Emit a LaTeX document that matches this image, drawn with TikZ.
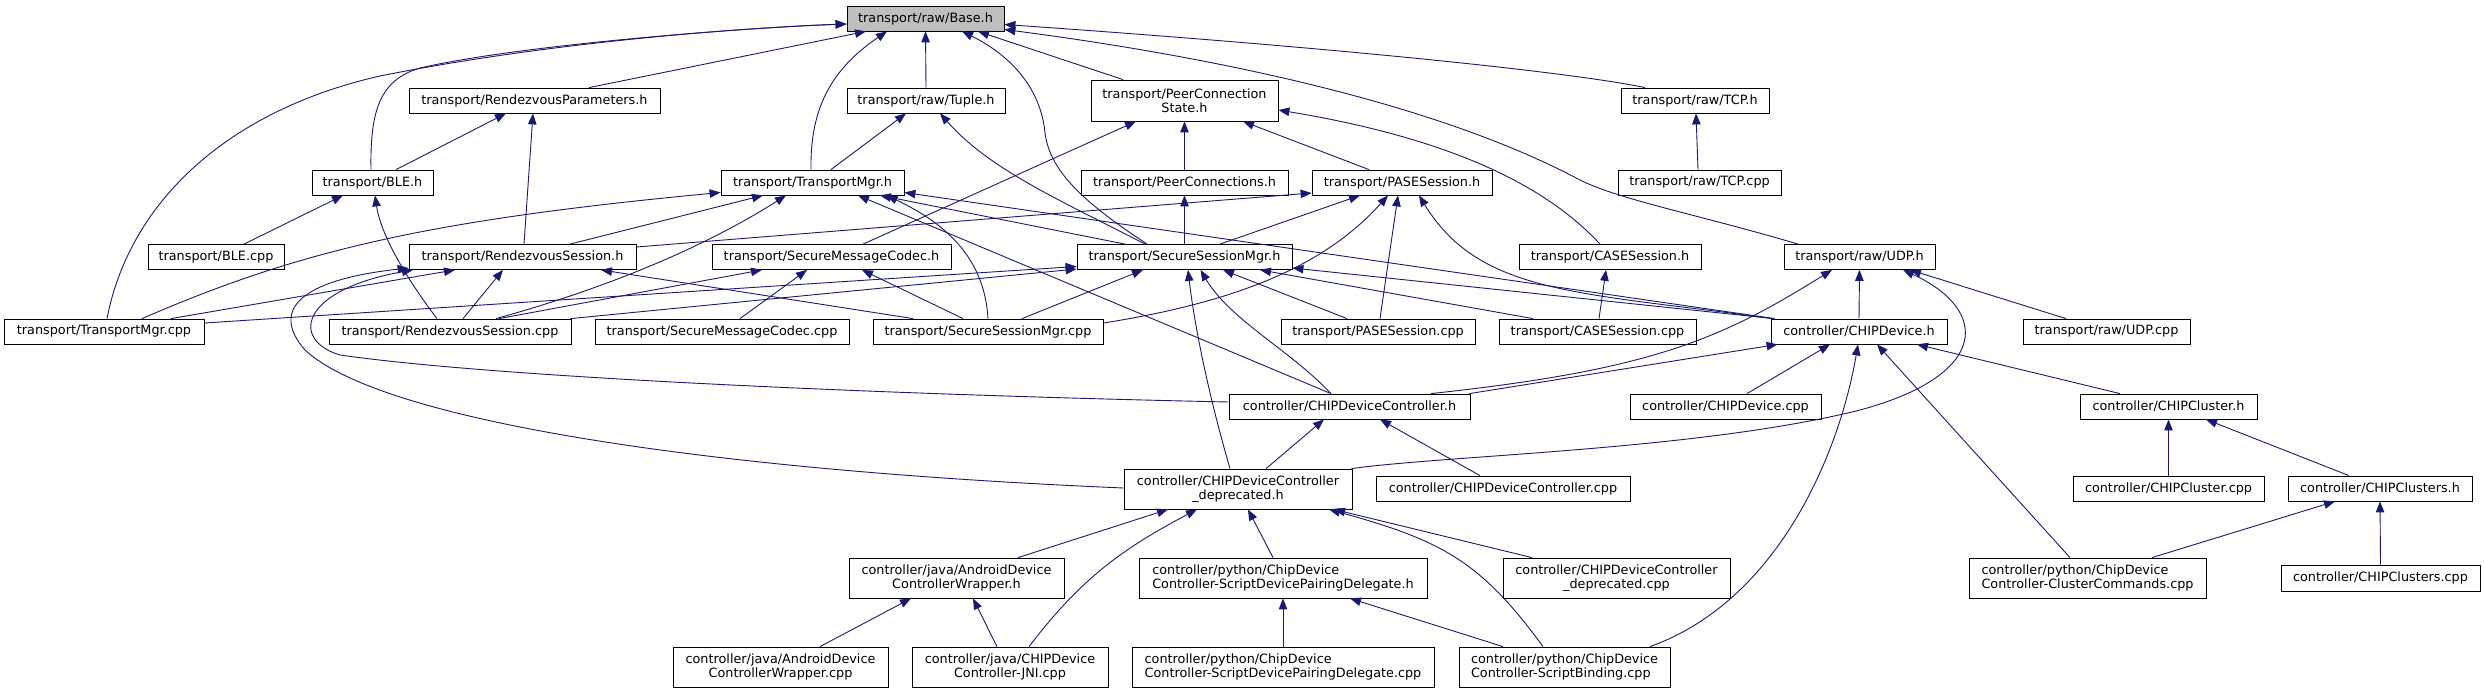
\documentclass[tikz,border=0pt]{standalone}
\usepackage{fontspec}
\setmainfont{DejaVu Sans}
\usetikzlibrary{arrows.meta}
\definecolor{edgeblue}{HTML}{191970}
\definecolor{basegray}{HTML}{BFBFBF}
\begin{document}
\begin{tikzpicture}[x=1pt,y=-1pt,
  box/.style={draw=black, line width=0.8pt, inner sep=0pt, align=center, font=\fontsize{12.8}{14}\selectfont, minimum height=25pt},
  tall/.style={minimum height=40pt},
  edge/.style={draw=edgeblue, line width=0.9pt, -{Triangle[length=11pt,width=8.5pt]}, fill=none},
]
\useasboundingbox (0,0) rectangle (2485,693);
% nodes
\node[box, fill=basegray, minimum width=157pt] (base) at (925.5,18.5) {transport/raw/Base.h};
\node[box, minimum width=251pt] (rp) at (534.5,100.5) {transport/RendezvousParameters.h};
\node[box, minimum width=158pt] (tuple) at (926,100.5) {transport/raw/Tuple.h};
\node[box, minimum width=187pt, minimum height=41pt] (pcs) at (1184.5,100.5) {transport/PeerConnection\\State.h};
\node[box, minimum width=148pt] (tcph) at (1695,100.5) {transport/raw/TCP.h};
\node[box, minimum width=121pt] (bleh) at (372.5,182.5) {transport/BLE.h};
\node[box, minimum width=183pt] (tmh) at (812.5,182.5) {transport/TransportMgr.h};
\node[box, minimum width=207pt] (pch) at (1184.5,182.5) {transport/PeerConnections.h};
\node[box, minimum width=180pt] (paseh) at (1402,182.5) {transport/PASESession.h};
\node[box, minimum width=163pt] (tcpcpp) at (1699.5,182.5) {transport/raw/TCP.cpp};
\node[box, minimum width=136pt] (blecpp) at (216,257) {transport/BLE.cpp};
\node[box, minimum width=227pt] (rsh) at (522.5,257) {transport/RendezvousSession.h};
\node[box, minimum width=239pt] (smch) at (831.5,257) {transport/SecureMessageCodec.h};
\node[box, minimum width=215pt] (ssmh) at (1184.5,257) {transport/SecureSessionMgr.h};
\node[box, minimum width=182pt] (caseh) at (1610,257) {transport/CASESession.h};
\node[box, minimum width=151pt] (udph) at (1859.5,257) {transport/raw/UDP.h};
\node[box, minimum width=200pt] (tmcpp) at (104,331.5) {transport/TransportMgr.cpp};
\node[box, minimum width=242pt] (rscpp) at (450,331.5) {transport/RendezvousSession.cpp};
\node[box, minimum width=254pt] (smccpp) at (722,331.5) {transport/SecureMessageCodec.cpp};
\node[box, minimum width=230pt] (ssmcpp) at (988,331.5) {transport/SecureSessionMgr.cpp};
\node[box, minimum width=194pt] (pasecpp) at (1378,331.5) {transport/PASESession.cpp};
\node[box, minimum width=197pt] (casecpp) at (1597.5,331.5) {transport/CASESession.cpp};
\node[box, minimum width=176pt] (devh) at (1859,331.5) {controller/CHIPDevice.h};
\node[box, minimum width=167pt] (udpcpp) at (2106.5,331.5) {transport/raw/UDP.cpp};
\node[box, minimum width=241pt] (dch) at (1349.5,406.5) {controller/CHIPDeviceController.h};
\node[box, minimum width=191pt] (devcpp) at (1725.5,406.5) {controller/CHIPDevice.cpp};
\node[box, minimum width=177pt] (clh) at (2168.5,406.5) {controller/CHIPCluster.h};
\node[box, tall, minimum width=228pt] (dep) at (1238,489) {controller/CHIPDeviceController\\\_deprecated.h};
\node[box, minimum width=254pt] (dccpp) at (1503,488.5) {controller/CHIPDeviceController.cpp};
\node[box, minimum width=191pt] (clcpp) at (2168.5,488.5) {controller/CHIPCluster.cpp};
\node[box, minimum width=184pt] (clsh) at (2380,488.5) {controller/CHIPClusters.h};
\node[box, tall, minimum width=215pt] (awh) at (956.5,578) {controller/java/AndroidDevice\\ControllerWrapper.h};
\node[box, tall, minimum width=288pt, align=left] (spdh) at (1283,578) {controller/python/ChipDevice\\Controller-ScriptDevicePairingDelegate.h};
\node[box, tall, minimum width=227pt] (depcpp) at (1616.5,578) {controller/CHIPDeviceController\\\_deprecated.cpp};
\node[box, tall, minimum width=237pt, align=left] (ccmd) at (2087.5,578) {controller/python/ChipDevice\\Controller-ClusterCommands.cpp};
\node[box, minimum width=199pt, minimum height=26pt] (clscpp) at (2380.5,578) {controller/CHIPClusters.cpp};
\node[box, tall, minimum width=215pt] (awcpp) at (780.5,667) {controller/java/AndroidDevice\\ControllerWrapper.cpp};
\node[box, tall, minimum width=196pt] (jni) at (1010,667) {controller/java/CHIPDevice\\Controller-JNI.cpp};
\node[box, tall, minimum width=302pt, align=left] (spdcpp) at (1283,667) {controller/python/ChipDevice\\Controller-ScriptDevicePairingDelegate.cpp};
\node[box, tall, minimum width=211pt, align=left] (sbcpp) at (1564.5,667) {controller/python/ChipDevice\\Controller-ScriptBinding.cpp};
% edges to Base.h
\draw[edge] ([xshift=3pt]tmcpp.north) .. controls (130,200) and (230,110) .. (380,76) .. controls (560,40) and (760,27) .. ([yshift=-5.5pt]base.west);
\draw[edge] ([xshift=-1.5pt]bleh.north) .. controls (370,110) and (380,80) .. (420,68) .. controls (520,45) and (740,28) .. ([yshift=-5.5pt]base.west);
\draw[edge] ([xshift=54.5pt]rp.north) -- ([xshift=-59.5pt]base.south);
\draw[edge] ([xshift=-1.5pt]tmh.north) .. controls (810,110) and (830,70) .. ([xshift=-38.5pt]base.south);
\draw[edge] (tuple.north) -- (base.south);
\draw[edge] ([xshift=-37.5pt]ssmh.north) .. controls (1080,200) and (1050,170) .. (1045,133) .. controls (1040,80) and (1000,50) .. ([xshift=36.5pt]base.south);
\draw[edge] ([xshift=-61.5pt]pcs.north) -- ([xshift=52.5pt]base.south);
\draw[edge] ([xshift=-61.5pt]udph.north) .. controls (1700,215) and (1620,200) .. (1580,180) .. controls (1430,100) and (1200,55) .. ([yshift=-11pt]base.east);
\draw[edge] ([xshift=-50pt]tcph.north) .. controls (1560,70) and (1300,45) .. ([yshift=-6pt]base.east);
% RendezvousParameters, Tuple, PeerConnectionState, TCP
\draw[edge] ([xshift=23.5pt]bleh.north) -- ([xshift=-28.5pt]rp.south);
\draw[edge] ([xshift=1.5pt]rsh.north) -- ([xshift=-1.5pt]rp.south);
\draw[edge] ([xshift=18.5pt]tmh.north) -- ([xshift=-20pt]tuple.south);
\draw[edge] ([xshift=-39.5pt]ssmh.north) .. controls (1060,200) and (990,170) .. ([xshift=14pt]tuple.south);
\draw[edge] ([xshift=31.5pt]smch.north) -- ([xshift=-48.5pt]pcs.south);
\draw[edge] (pch.north) -- (pcs.south);
\draw[edge] ([xshift=-33pt]paseh.north) -- ([xshift=58.5pt]pcs.south);
\draw[edge] ([xshift=-10pt]caseh.north) .. controls (1550,190) and (1460,140) .. ([yshift=-9.5pt]pcs.east);
\draw[edge] ([xshift=-1.5pt]tcpcpp.north) -- ([xshift=1pt]tcph.south);
% BLE.h
\draw[edge] ([xshift=28pt]blecpp.north) -- ([xshift=-29.5pt]bleh.south);
\draw[edge] ([xshift=-13pt]rscpp.north) .. controls (400,270) and (380,230) .. ([xshift=2.5pt]bleh.south);
% TransportMgr.h
\draw[edge] ([xshift=38pt]tmcpp.north) .. controls (300,250) and (430,220) .. ([yshift=-10pt]tmh.west);
\draw[edge] ([xshift=47.5pt]rsh.north) -- ([xshift=-49.5pt]tmh.south);
\draw[edge] ([xshift=46pt]rscpp.north) .. controls (600,290) and (700,250) .. ([xshift=-26.5pt]tmh.south);
\draw[edge] ([xshift=-59.5pt]ssmh.north) -- ([xshift=67.5pt]tmh.south);
\draw[edge] (ssmcpp.north) .. controls (985,270) and (960,230) .. ([xshift=74pt]tmh.south);
\draw[edge] ([xshift=-18.5pt]dch.north) -- ([xshift=45.5pt]tmh.south);
\draw[edge] ([xshift=4pt]devh.north west) -- ([yshift=-10pt]tmh.east);
% PeerConnections.h
\draw[edge] (ssmh.north) -- (pch.south);
% PASESession.h
\draw[edge] ([yshift=10pt]rsh.east) -- ([yshift=-10.5pt]paseh.west);
\draw[edge] ([xshift=35.5pt]ssmh.north) -- ([xshift=-42pt]paseh.south);
\draw[edge] ([yshift=8.5pt]ssmcpp.east) .. controls (1250,300) and (1330,260) .. ([xshift=-14pt]paseh.south);
\draw[edge] ([xshift=2pt]pasecpp.north) -- ([xshift=-4pt]paseh.south);
\draw[edge] ([xshift=2pt]devh.north west) .. controls (1580,292) and (1480,295) .. ([xshift=17pt]paseh.south);
% RendezvousSession.h
\draw[edge] ([xshift=67pt]tmcpp.north) -- ([xshift=-67.5pt]rsh.south);
\draw[edge] ([xshift=13pt]rscpp.north) -- ([xshift=-19.5pt]rsh.south);
\draw[edge] ([xshift=-75pt]ssmcpp.north) -- ([xshift=78.5pt]rsh.south);
\draw[edge] ([yshift=4.5pt]dch.west) .. controls (900,395) and (500,378) .. (340,355) .. controls (290,340) and (300,290) .. ([xshift=-109.5pt]rsh.south);
\draw[edge] ([yshift=1pt]dep.west) .. controls (700,470) and (380,420) .. (305,350) .. controls (270,310) and (300,280) .. ([yshift=-11pt]rsh.west);
% SecureMessageCodec.h
\draw[edge] ([xshift=49pt]rscpp.north) -- ([xshift=-69.5pt]smch.south);
\draw[edge] ([xshift=18pt]smccpp.north) -- ([xshift=-24.5pt]smch.south);
\draw[edge] ([xshift=-25pt]ssmcpp.north) -- ([xshift=30.5pt]smch.south);
% SecureSessionMgr.h
\draw[edge] ([yshift=8.5pt]tmcpp.east) -- ([yshift=-9.5pt]ssmh.west);
\draw[edge] ([xshift=-1pt]rscpp.north east) -- ([yshift=-12pt]ssmh.west);
\draw[edge] ([xshift=34pt]ssmcpp.north) -- ([xshift=-41.5pt]ssmh.south);
\draw[edge] ([xshift=-31pt]pasecpp.north) -- ([xshift=38.5pt]ssmh.south);
\draw[edge] ([xshift=-64.5pt]casecpp.north) -- ([xshift=75.5pt]ssmh.south);
\draw[edge] ([xshift=3pt]devh.north west) -- ([yshift=-11pt]ssmh.east);
\draw[edge] ([xshift=-18.5pt]dch.north) .. controls (1290,350) and (1230,320) .. ([xshift=16pt]ssmh.south);
\draw[edge] ([xshift=-8pt]dep.north) .. controls (1210,400) and (1195,330) .. ([xshift=3.5pt]ssmh.south);
% CASESession.h
\draw[edge] ([xshift=1.5pt]casecpp.north) -- ([xshift=-4pt]caseh.south);
% UDP.h
\draw[edge] (devh.north) -- (udph.south);
\draw[edge] ([xshift=81.5pt]dch.north) .. controls (1650,370) and (1720,340) .. ([xshift=-27.5pt]udph.south);
\draw[edge] ([xshift=-1pt]dep.north east) .. controls (1450,455) and (1700,450) .. (1860,410) .. controls (1990,375) and (1990,310) .. ([xshift=43.5pt]udph.south);
\draw[edge] ([xshift=-40.5pt]udpcpp.north) -- ([xshift=50.5pt]udph.south);
% CHIPDevice.h
\draw[edge] ([xshift=-1pt]dch.north east) -- ([xshift=7pt]devh.south west);
\draw[edge] ([xshift=21.5pt]devcpp.north) -- ([xshift=-29pt]devh.south);
\draw[edge] ([xshift=85.5pt]sbcpp.north) .. controls (1780,600) and (1840,450) .. ([xshift=-1pt]devh.south);
\draw[edge] ([xshift=-17.5pt]ccmd.north) -- ([xshift=18pt]devh.south);
\draw[edge] ([xshift=-48.5pt]clh.north) -- ([xshift=58pt]devh.south);
% CHIPDeviceController.h
\draw[edge] ([xshift=28pt]dep.north) -- ([xshift=-25.5pt]dch.south);
\draw[edge] ([xshift=-23pt]dccpp.north) -- ([xshift=30.5pt]dch.south);
% deprecated.h
\draw[edge] ([xshift=61.5pt]awh.north) -- ([xshift=-70pt]dep.south);
\draw[edge] ([xshift=19pt]jni.north) .. controls (1080,580) and (1120,550) .. ([xshift=-41pt]dep.south);
\draw[edge] ([xshift=-10pt]spdh.north) -- ([xshift=10pt]dep.south);
\draw[edge] ([xshift=-21.5pt]sbcpp.north) .. controls (1480,560) and (1440,540) .. ([xshift=91pt]dep.south);
\draw[edge] ([xshift=-84.5pt]depcpp.north) -- ([xshift=96pt]dep.south);
% clusters
\draw[edge] (clcpp.north) -- (clh.south);
\draw[edge] ([xshift=-31pt]clsh.north) -- ([xshift=37.5pt]clh.south);
\draw[edge] ([xshift=64.5pt]ccmd.north) -- ([xshift=-45pt]clsh.south);
\draw[edge] (clscpp.north) -- (clsh.south);
% wrappers
\draw[edge] ([xshift=39.5pt]awcpp.north) -- ([xshift=-45.5pt]awh.south);
\draw[edge] ([xshift=-13pt]jni.north) -- ([xshift=16.5pt]awh.south);
\draw[edge] (spdcpp.north) -- (spdh.south);
\draw[edge] ([xshift=-61.5pt]sbcpp.north) -- ([xshift=67pt]spdh.south);
\end{tikzpicture}
\end{document}
